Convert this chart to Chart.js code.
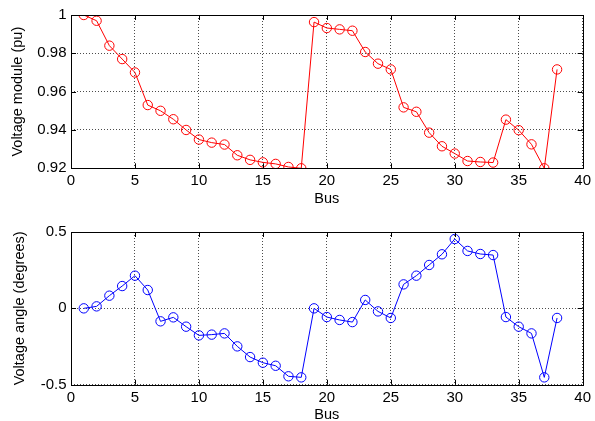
<!DOCTYPE html>
<html>
<head>
<meta charset="utf-8">
<script src="https://cdn.jsdelivr.net/npm/chart.js@4"></script>
<style>
  html, body { margin: 0; padding: 0; background: #fff; overflow: hidden; }
  #wrap { position: relative; width: 595px; height: 421px; overflow: hidden; }
  .box { position: absolute; left: 0; width: 595px; }
</style>
</head>
<body>
<div id="wrap">
  <div class="box" style="top:0;height:210px"><canvas id="c1"></canvas></div>
  <div class="box" style="top:210px;height:215px"><canvas id="c2"></canvas></div>
</div>
<script>
// bus numbers 1..38
const buses = [1,2,3,4,5,6,7,8,9,10,11,12,13,14,15,16,17,18,19,20,
  21,22,23,24,25,26,27,28,29,30,31,32,33,34,35,36,37,38];

// voltage magnitude (pu)
const vmod = [1.000,0.997,0.984,0.977,0.970,0.953,0.950,0.9456,0.940,0.935,
  0.9334,0.9324,0.9268,0.9244,0.9231,0.9223,0.9207,0.920,0.9963,0.9932,
  0.9925,0.9918,0.9807,0.9746,0.9716,0.9518,0.9495,0.9386,0.9315,0.9277,
  0.9238,0.9233,0.923,0.9454,0.9399,0.9325,0.920,0.9716];

// voltage angle (degrees)
const vang = [0,0.013,0.083,0.146,0.214,0.12,-0.085,-0.059,-0.12,-0.177,
  -0.172,-0.164,-0.249,-0.319,-0.356,-0.376,-0.445,-0.452,0,-0.057,
  -0.076,-0.09,0.055,-0.02,-0.063,0.157,0.214,0.284,0.354,0.454,
  0.376,0.356,0.349,-0.057,-0.12,-0.164,-0.452,-0.063];

const xTicks = [0,5,10,15,20,25,30,35,40];

Chart.defaults.font = { family: "'Liberation Sans', Arial, sans-serif", size: 15 };
Chart.defaults.color = '#000';

// matlab style box + inward ticks
const boxPlugin = {
  id: 'box',
  afterDraw(chart) {
    const ctx = chart.ctx, a = chart.chartArea;
    const xs = chart.scales.x, ys = chart.scales.y;
    ctx.save();
    ctx.strokeStyle = '#000';
    ctx.lineWidth = 1;
    ctx.strokeRect(Math.round(a.left) + 0.5, Math.round(a.top) + 0.5,
      Math.round(a.right - a.left), Math.round(a.bottom - a.top));
    ctx.beginPath();
    xs.ticks.forEach(t => {
      const px = Math.round(xs.getPixelForValue(t.value)) + 0.5;
      ctx.moveTo(px, a.bottom); ctx.lineTo(px, a.bottom - 5);
      ctx.moveTo(px, a.top); ctx.lineTo(px, a.top + 5);
    });
    ys.ticks.forEach(t => {
      const py = Math.round(ys.getPixelForValue(t.value)) + 0.5;
      ctx.moveTo(a.left, py); ctx.lineTo(a.left + 5, py);
      ctx.moveTo(a.right, py); ctx.lineTo(a.right - 5, py);
    });
    ctx.stroke();
    ctx.restore();
  }
};

function makeChart(id, values, color, yTitle, yMin, yMax, yStep, padTop, xHeight, busPad, yTitlePad) {
  return new Chart(document.getElementById(id), {
    type: 'line',
    data: {
      datasets: [{
        data: buses.map((b, i) => ({ x: b, y: values[i] })),
        borderColor: color,
        borderWidth: 1,
        backgroundColor: 'rgba(0,0,0,0)',
        pointRadius: 4.7,
        pointBorderWidth: 1,
        pointBorderColor: color,
        pointBackgroundColor: 'rgba(0,0,0,0)',
        tension: 0
      }]
    },
    options: {
      responsive: true,
      maintainAspectRatio: false,
      animation: false,
      layout: { padding: { top: padTop, right: 8.5, left: 0, bottom: 0 } },
      plugins: { legend: { display: false }, tooltip: { enabled: false } },
      scales: {
        x: {
          type: 'linear', min: 0, max: 40,
          afterBuildTicks: s => { s.ticks = xTicks.map(v => ({ value: v })); },
          afterFit: s => { s.height = xHeight; },
          grid: { color: 'rgba(0,0,0,0.7)', drawTicks: false },
          border: { display: false, dash: [1, 2] },
          ticks: { padding: 4, maxRotation: 0 },
          title: { display: true, text: 'Bus', font: { size: 14.5 }, padding: { top: 0, bottom: busPad } }
        },
        y: {
          min: yMin, max: yMax,
          ticks: { stepSize: yStep, padding: 4.5, callback: v => String(Math.round(v * 100) / 100) },
          afterFit: s => { s.width = 71; },
          grid: { color: 'rgba(0,0,0,0.7)', drawTicks: false },
          border: { display: false, dash: [1, 2] },
          title: { display: true, text: yTitle, font: { size: 14.5 }, padding: { top: yTitlePad, bottom: 0 } }
        }
      }
    },
    plugins: [boxPlugin]
  });
}

makeChart('c1', vmod, '#ff0000', 'Voltage module (pu)', 0.92, 1, 0.02, 15, 41.7, 2.5, 9);
makeChart('c2', vang, '#0000ff', 'Voltage angle (degrees)', -0.5, 0.5, 0.5, 22, 40.3, 1.3, 11.5);
</script>
</body>
</html>
